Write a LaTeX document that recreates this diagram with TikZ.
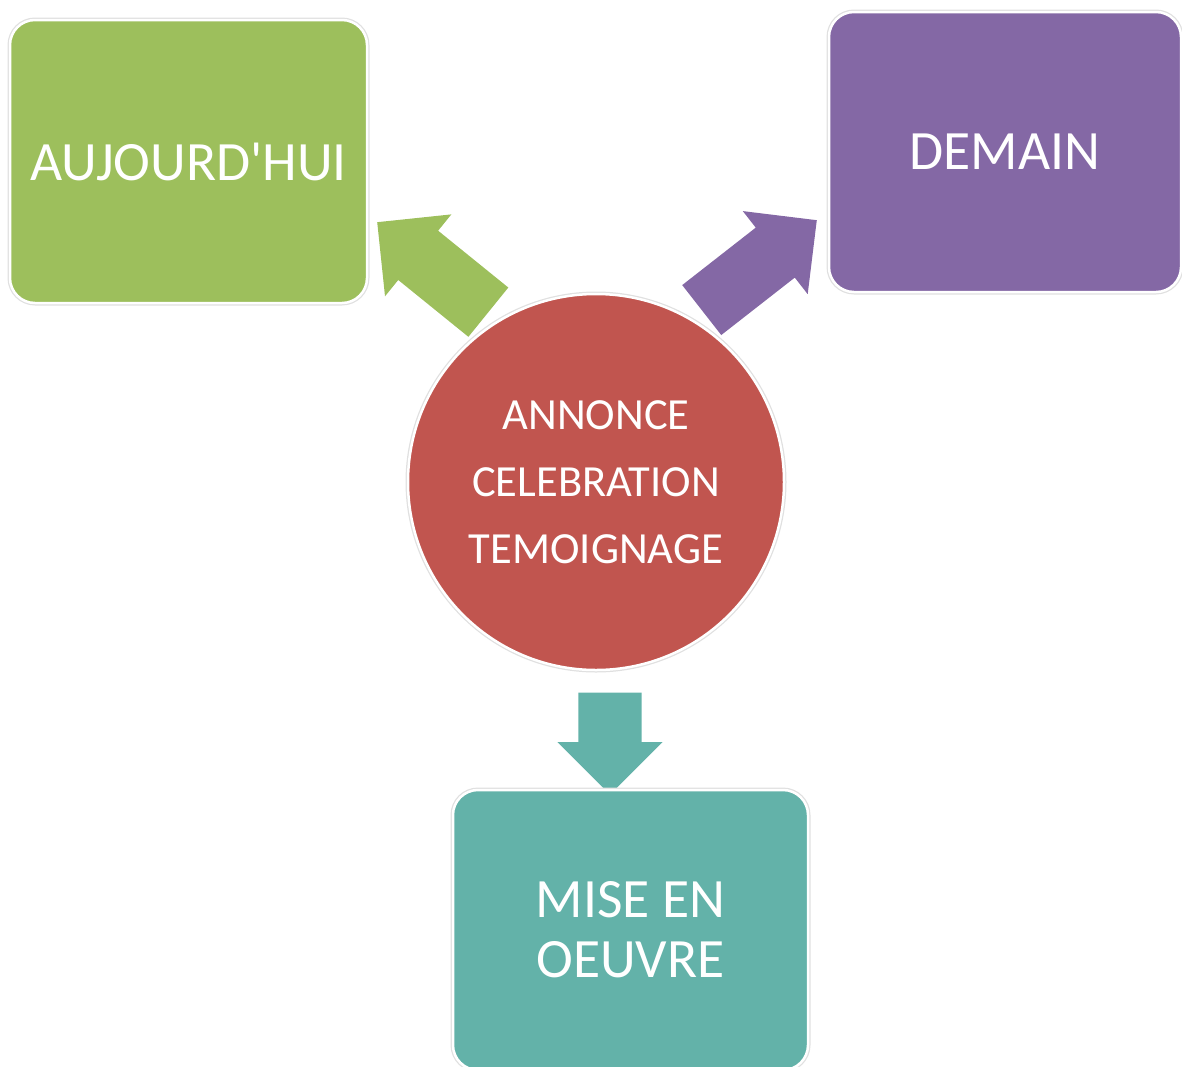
\documentclass[tikz,border=0pt]{standalone}
\usepackage{fontspec}
\setmainfont{Carlito}
\usetikzlibrary{shapes.arrows}
\definecolor{green}{HTML}{9DBF5C}
\definecolor{purple}{HTML}{8468A5}
\definecolor{red}{HTML}{C1554F}
\definecolor{teal}{HTML}{63B2A9}

\begin{document}
\begin{tikzpicture}[x=1pt,y=1pt,
    box/.style={rectangle, rounded corners=25pt, fill=#1, draw=white, line width=2.5pt,
                preaction={draw=black!12, line width=5pt},
                text=white, align=center, font=\fontsize{55.5}{60}\selectfont},
    hub/.style={circle, fill=#1, draw=white, line width=2.5pt,
                preaction={draw=black!12, line width=5pt},
                text=white, align=center, font=\fontsize{44.5}{67}\selectfont},
    bigarrow/.style={single arrow, fill=#1, inner xsep=0pt, inner ysep=31.5pt,
                single arrow head extend=21pt, anchor=tip}]
    \useasboundingbox (0,0) rectangle (1182,-1066);
    % Draw the arrows first
    \node[bigarrow=green, minimum height=143pt, rotate=141] (toleft) at (377,-222) {};
    \node[bigarrow=purple, minimum height=146pt, rotate=38] (toright) at (817,-220) {};
    \node[bigarrow=teal, minimum height=102pt, rotate=-90] (todown) at (610,-795) {};
    % Centre circle
    \node[hub=red, minimum size=376pt] (annonce) at (596,-482)
        {ANNONCE\\CELEBRATION\\TEMOIGNAGE};
    % Boxes
    \node[box=green, minimum width=357pt, minimum height=283pt] (aujourdhui) at (188.5,-161.5) {AUJOURD\textquotesingle HUI};
    \node[box=purple, minimum width=352pt, minimum height=280pt] (demain) at (1005,-152) {DEMAIN};
    \node[box=teal, minimum width=355pt, minimum height=280pt] (oeuvre) at (630.5,-930) {MISE EN\\OEUVRE};
\end{tikzpicture}
\end{document}
